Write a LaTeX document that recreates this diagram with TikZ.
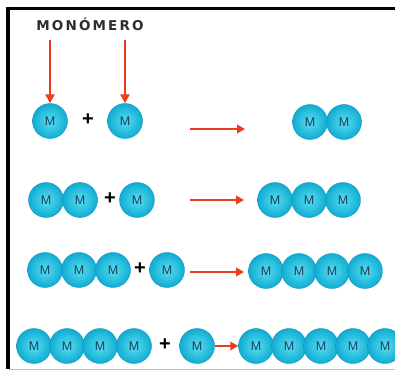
\documentclass[tikz,border=0pt]{standalone}
\usepackage{fontspec}
\setmainfont{Liberation Sans}
\newfontfamily\titlefont[LetterSpace=16]{DejaVu Sans}
\usetikzlibrary{arrows.meta}
\definecolor{ballin}{RGB}{88,222,242}
\definecolor{ballout}{RGB}{16,172,210}
\definecolor{balledge}{RGB}{18,150,192}
\definecolor{mtext}{RGB}{28,62,92}
\definecolor{arrowred}{RGB}{232,62,30}
\definecolor{titlegray}{RGB}{45,45,45}
\tikzset{
  mono/.style={circle, minimum size=35pt, inner sep=0pt,
    shading=radial, inner color=ballin, outer color=ballout,
    draw=balledge, line width=0.4pt, text=mtext,
    font=\fontsize{12.5}{12.5}\selectfont},
  plussign/.style={inner sep=0pt, font=\fontsize{20}{20}\selectfont\bfseries},
  react/.style={draw=arrowred, line width=2.2pt, -{Triangle[length=8pt,width=8.5pt]}},
  downarrow/.style={draw=arrowred, line width=2.4pt, -{Triangle[length=9pt,width=9pt]}}
}
\begin{document}
\begin{tikzpicture}[x=1pt,y=-1pt]
\useasboundingbox (0,0) rectangle (395,371);
\fill[white] (0,0) rectangle (395,371);
% frame
\draw[line width=3.5pt] (8,7.5) -- (8,369);
\draw[line width=3.5pt] (6.25,8.75) -- (395,8.75);
\draw[black!25, line width=1.5pt] (9,369.5) -- (395,369.5);

% title and pointers
\node[text=titlegray, font=\titlefont\fontsize{13.5}{13.5}\selectfont\bfseries] (title) at (90,24) {MONÓMERO};
\coordinate (p1) at (50,40);
\coordinate (p2) at (125,40);

% row 1
\node[mono] (a1) at (50,121) {M};
\node[plussign] (s1) at (88,120) {+};
\node[mono] (a2) at (125,121) {M};
\coordinate (r1s) at (190,129);
\coordinate (r1e) at (245,129);
\node[mono] (b1) at (310,122) {M};
\node[mono] (b2) at (344,122) {M};
\draw[downarrow] (p1) -- (a1.north);
\draw[downarrow] (p2) -- (a2.north);
\draw[react] (r1s) -- (r1e);

% row 2
\node[mono] (c1) at (46,200) {M};
\node[mono] (c2) at (80,200) {M};
\node[plussign] (s2) at (110,199) {+};
\node[mono] (c3) at (137,200) {M};
\coordinate (r2s) at (190,200);
\coordinate (r2e) at (244,200);
\node[mono] (d1) at (275,200) {M};
\node[mono] (d2) at (309,200) {M};
\node[mono] (d3) at (343,200) {M};
\draw[react] (r2s) -- (r2e);

% row 3
\node[mono] (e1) at (45,270) {M};
\node[mono] (e2) at (79,270) {M};
\node[mono] (e3) at (113,270) {M};
\node[plussign] (s3) at (140,269) {+};
\node[mono] (e4) at (167,270) {M};
\coordinate (r3s) at (190,272);
\coordinate (r3e) at (244,272);
\node[mono] (f1) at (266,271) {M};
\node[mono] (f2) at (299,271) {M};
\node[mono] (f3) at (332,271) {M};
\node[mono] (f4) at (365,271) {M};
\draw[react] (r3s) -- (r3e);

% row 4
\node[mono] (g1) at (34,346) {M};
\node[mono] (g2) at (67,346) {M};
\node[mono] (g3) at (100,346) {M};
\node[mono] (g4) at (134,346) {M};
\node[plussign] (s4) at (165,345) {+};
\node[mono] (g5) at (197,346) {M};
\node[mono] (h1) at (256,346) {M};
\node[mono] (h2) at (289,346) {M};
\node[mono] (h3) at (321,346) {M};
\node[mono] (h4) at (353,346) {M};
\node[mono] (h5) at (385,346) {M};
\draw[react] (g5.east) -- (h1.west);
\end{tikzpicture}
\end{document}
